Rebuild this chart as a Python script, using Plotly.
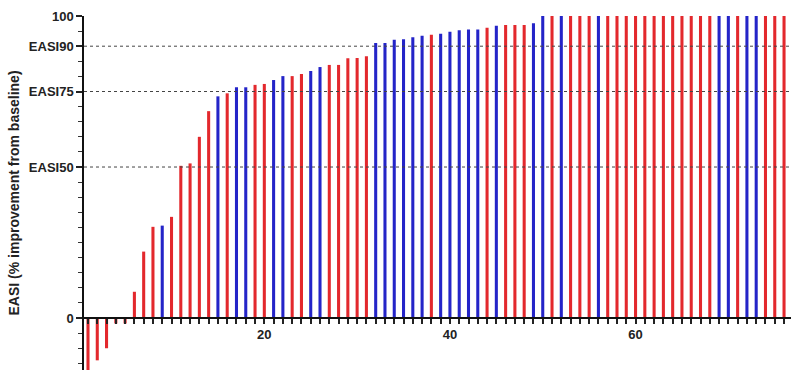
import plotly.graph_objects as go

# Per-patient EASI change (% improvement from baseline), sorted waterfall order
easi_change = [
    -20, -14, -10, -1.8, -1.8, 8.7, 22, 30.2, 30.6, 33.5,
    50.4, 51.2, 60, 68.5, 73.4, 74.4, 76.4, 76.4, 77.2, 77.5,
    78.8, 80.1, 80.1, 80.8, 81.8, 83.1, 83.8, 83.8, 86.0, 86.1,
    86.7, 91.1, 91.1, 92.1, 92.3, 93.0, 93.5, 93.8, 94.1, 94.8,
    95.3, 95.5, 95.5, 96.1, 96.8, 97.0, 97.0, 97.0, 97.6, 100,
    100, 100, 100, 100, 100, 100, 100, 100, 100, 100,
    100, 100, 100, 100, 100, 100, 100, 100, 100, 100,
    100, 100, 100, 100, 100, 100,
]

# Group of each patient (R = red bars, B = blue bars)
group = (
    ["R"] * 8 + ["B"] + ["R"] * 5 + ["B"] + ["R"] + ["B"] * 2 + ["R"] * 2
    + ["B"] * 2 + ["R"] * 2 + ["B"] * 2 + ["R"] * 5 + ["B"] * 6 + ["R"]
    + ["B"] * 5 + ["R"] + ["B"] + ["R"] * 3 + ["B"] * 2 + ["R"] + ["B"]
    + ["R"] * 3 + ["B"] + ["R"] * 12 + ["B"] * 2 + ["R"] + ["B"] * 2 + ["R"] * 3
)

patient = list(range(1, len(easi_change) + 1))

y_tickvals = [0, 50, 75, 90, 100]
y_ticktext = ["0", "EASI50", "EASI75", "EASI90", "100"]
x_tickvals = [20, 40, 60]
threshold_lines = [50, 75, 90]

colors = {"R": "#e3282d", "B": "#2424c8"}

fig = go.Figure()
for g in ["R", "B"]:
    xs = [p for p, gg in zip(patient, group) if gg == g]
    ys = [v for v, gg in zip(easi_change, group) if gg == g]
    fig.add_trace(go.Bar(
        x=xs, y=ys, width=0.33,
        marker=dict(color=colors[g], line=dict(width=0)),
        showlegend=False,
    ))

y_range = [-17.2, 100]
x_range = [0.57, 76.75]

for lvl in threshold_lines:
    fig.add_shape(
        type="line", xref="paper", x0=0, x1=1, yref="y", y0=lvl, y1=lvl,
        line=dict(color="#444444", width=1, dash="dot"), layer="above",
    )

tick_font = dict(family="Liberation Sans, Arial, sans-serif", size=13,
                 color="#222222", weight="bold")

fig.update_layout(
    width=791, height=370,
    margin=dict(l=84, r=0, t=16, b=0),
    paper_bgcolor="white", plot_bgcolor="white",
    barmode="overlay",
    xaxis=dict(
        range=x_range, anchor="free",
        position=(0 - y_range[0]) / (y_range[1] - y_range[0]),
        showgrid=False, zeroline=False,
        showline=True, linecolor="#111111", linewidth=1.5,
        tickmode="array", tickvals=x_tickvals,
        ticks="outside", ticklen=5, tickwidth=1.5, tickcolor="#222222",
        tickfont=tick_font,
        minor=dict(dtick=1, tick0=0, ticks="outside", ticklen=5,
                   tickwidth=1.5, tickcolor="#222222", showgrid=False),
    ),
    yaxis=dict(
        range=y_range,
        showgrid=False, zeroline=False,
        showline=True, linecolor="#111111", linewidth=1.5,
        tickmode="array", tickvals=y_tickvals, ticktext=y_ticktext,
        ticks="outside", ticklen=6, tickwidth=1.5, tickcolor="#222222",
        tickfont=tick_font,
        minor=dict(dtick=5, tick0=0, ticks="outside", ticklen=4,
                   tickwidth=1, tickcolor="#333333", showgrid=False),
        title=dict(text="EASI (% improvement from baseline)",
                   font=dict(family="Liberation Sans, Arial, sans-serif",
                             size=14, color="#222222", weight="bold"),
                   standoff=6),
    ),
)

fig.write_html("out.html")
